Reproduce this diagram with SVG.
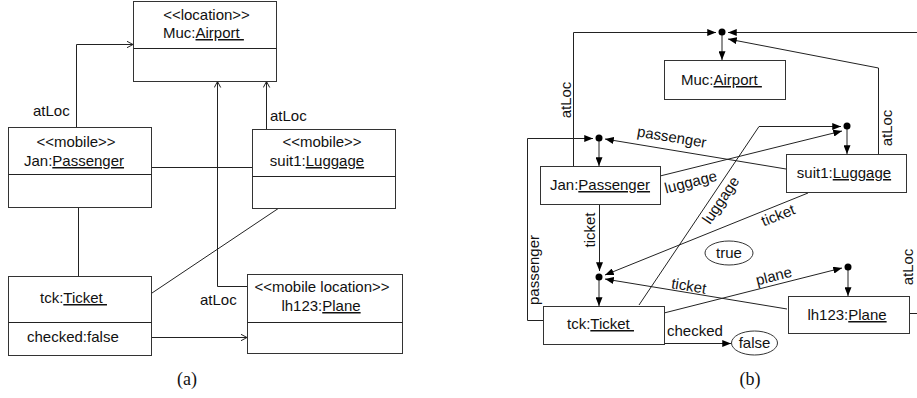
<svg xmlns="http://www.w3.org/2000/svg" width="917" height="398" viewBox="0 0 917 398">
<defs>
<style>
text{font-family:"Liberation Sans",Arial,sans-serif;font-size:15px;fill:#111}
.c{text-anchor:middle}
.cap{font-family:"Liberation Serif","Times New Roman",serif;font-size:18px;text-anchor:middle}
.box{fill:#fff;stroke:#333;stroke-width:1}
.ln{fill:none;stroke:#222;stroke-width:1}
.u{text-decoration:underline}
.dot{fill:#000}
.oa{marker-end:url(#open)}
.fa{marker-end:url(#fill)}
</style>
<marker id="open" viewBox="0 0 8 8" refX="7.5" refY="4" markerWidth="8" markerHeight="8" markerUnits="userSpaceOnUse" orient="auto">
<path d="M1.5,0.8 L7.5,4 L1.5,7.2" fill="none" stroke="#222" stroke-width="1"/>
</marker>
<marker id="fill" viewBox="0 0 10 8" refX="10" refY="4" markerWidth="9" markerHeight="7" markerUnits="userSpaceOnUse" orient="auto">
<path d="M0,0 L10,4 L0,8 z" fill="#000"/>
</marker>
</defs>
<rect width="917" height="398" fill="#fff"/>

<!-- (a) -->
<g id="connectors-a">
<path class="ln oa" d="M76.5,127.5 V44.5 H133"/>
<path class="ln oa" d="M266.5,129.5 V81.5"/>
<path class="ln oa" d="M247.5,286.5 H217.5 V81.5"/>
<path class="ln" d="M151.5,167.5 H252.5"/>
<path class="ln" d="M78.5,207.5 V276.5"/>
<path class="ln" d="M152,293 L279,208"/>
<path class="ln oa" d="M151.5,337.5 H247"/>
<text x="33" y="116">atLoc</text>
<text x="270" y="121">atLoc</text>
<text x="200" y="305">atLoc</text>
</g>
<g id="a-airport">
<rect class="box" x="133.5" y="1.5" width="143" height="80"/>
<line class="ln" x1="133.5" y1="48.5" x2="276.5" y2="48.5"/>
<text class="c" x="206.5" y="20">&lt;&lt;location&gt;&gt;</text>
<text x="163" y="38">Muc:<tspan class="u">Airport&#160;</tspan></text>
</g>
<g id="a-passenger">
<rect class="box" x="8.5" y="127.5" width="143" height="80"/>
<line class="ln" x1="8.5" y1="174.5" x2="151.5" y2="174.5"/>
<text class="c" x="76" y="147">&lt;&lt;mobile&gt;&gt;</text>
<text class="c" x="74" y="166">Jan:<tspan class="u">Passenger</tspan></text>
</g>
<g id="a-luggage">
<rect class="box" x="252.5" y="129.5" width="143" height="79"/>
<line class="ln" x1="252.5" y1="176.5" x2="395.5" y2="176.5"/>
<text class="c" x="322" y="147">&lt;&lt;mobile&gt;&gt;</text>
<text class="c" x="317" y="166">suit1:<tspan class="u">Luggage</tspan></text>
</g>
<g id="a-ticket">
<rect class="box" x="8.5" y="276.5" width="143" height="79"/>
<line class="ln" x1="8.5" y1="322.5" x2="151.5" y2="322.5"/>
<text x="40" y="303">tck:<tspan class="u">Ticket&#160;</tspan></text>
<text x="27" y="342">checked:false</text>
</g>
<g id="a-plane">
<rect class="box" x="247.5" y="274.5" width="155" height="79"/>
<line class="ln" x1="247.5" y1="322.5" x2="402.5" y2="322.5"/>
<text class="c" x="322" y="292">&lt;&lt;mobile location&gt;&gt;</text>
<text class="c" x="321" y="311">lh123:<tspan class="u">Plane</tspan></text>
</g>
<text class="cap" x="187" y="385">(a)</text>

<!-- (b) -->
<g id="connectors-b">
<path class="ln fa" d="M573.5,166.5 V32.5 H716"/>
<path class="ln fa" d="M925,32.5 H728"/>
<path class="ln fa" d="M878.5,154.5 V68 L728,39"/>
<path class="ln fa" d="M722,32 V60"/>
<path class="ln fa" d="M847,126 V154"/>
<path class="ln fa" d="M599,138 V166"/>
<path class="ln fa" d="M599,277 V306"/>
<path class="ln fa" d="M848,267 V296"/>
<path class="ln fa" d="M543.5,320.5 H527.5 V138.5 H593"/>
<path class="ln fa" d="M786,169 L605,139"/>
<path class="ln fa" d="M660,176 L842,131"/>
<path class="ln fa" d="M639,305 L759,126.5 H841"/>
<path class="ln fa" d="M599.5,204.5 V271"/>
<path class="ln fa" d="M808,193 L605,275"/>
<path class="ln fa" d="M787,309 L605,279"/>
<path class="ln fa" d="M664,313 L842,268"/>
<path class="ln fa" d="M664.5,343.5 H731"/>
<path class="ln" d="M909.5,313.5 H925"/>
<circle class="dot" cx="722" cy="32" r="3.5"/>
<circle class="dot" cx="847" cy="126" r="3.5"/>
<circle class="dot" cx="599" cy="138" r="3.5"/>
<circle class="dot" cx="599" cy="277" r="3.5"/>
<circle class="dot" cx="848" cy="267" r="3.5"/>
<text class="c" transform="translate(571,100) rotate(-90)">atLoc</text>
<text class="c" transform="translate(892,128) rotate(-90)">atLoc</text>
<text class="c" transform="translate(913,267) rotate(-90)">atLoc</text>
<text class="c" transform="translate(539,270) rotate(-90)">passenger</text>
<text class="c" transform="translate(595,230) rotate(-90)">ticket</text>
<text class="c" transform="translate(671,142) rotate(9.4)">passenger</text>
<text class="c" transform="translate(692,187) rotate(-14)">luggage</text>
<text class="c" transform="translate(725,203) rotate(-56)">luggage</text>
<text class="c" transform="translate(780,220) rotate(-22)">ticket</text>
<text class="c" transform="translate(688,291) rotate(9.4)">ticket</text>
<text class="c" transform="translate(775,281) rotate(-14)">plane</text>
<text x="667" y="336">checked</text>
</g>
<g id="b-airport">
<rect class="box" x="664.5" y="60.5" width="121" height="39"/>
<text x="681" y="85">Muc:<tspan class="u">Airport&#160;</tspan></text>
</g>
<g id="b-passenger">
<rect class="box" x="540.5" y="166.5" width="120" height="38"/>
<text class="c" x="600" y="190">Jan:<tspan class="u">Passenger</tspan></text>
</g>
<g id="b-luggage">
<rect class="box" x="786.5" y="154.5" width="120" height="38"/>
<text class="c" x="844" y="178">suit1:<tspan class="u">Luggage</tspan></text>
</g>
<g id="b-plane">
<rect class="box" x="788.5" y="296.5" width="121" height="37"/>
<text class="c" x="847" y="320">lh123:<tspan class="u">Plane</tspan></text>
</g>
<g id="b-ticket">
<rect class="box" x="543.5" y="306.5" width="121" height="38"/>
<text x="567" y="329">tck:<tspan class="u">Ticket&#160;</tspan></text>
</g>
<g id="b-true">
<ellipse class="box" cx="729" cy="253" rx="24" ry="12"/>
<text class="c" x="729" y="258">true</text>
</g>
<g id="b-false">
<ellipse class="box" cx="754.5" cy="343" rx="23" ry="12"/>
<text class="c" x="754.5" y="348">false</text>
</g>
<text class="cap" x="750" y="385">(b)</text>
</svg>
